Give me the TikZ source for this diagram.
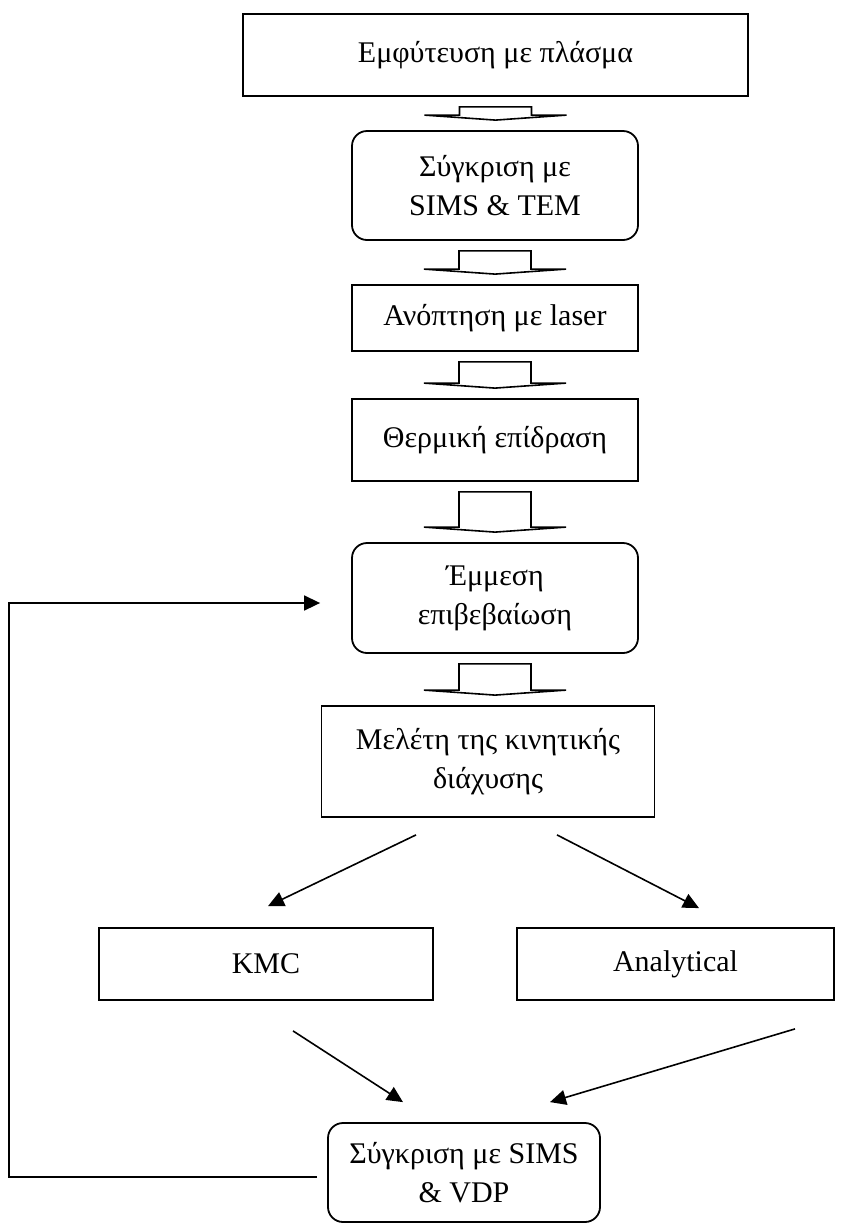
\documentclass[tikz,border=0pt]{standalone}
\usepackage{fontspec}
\setmainfont{Liberation Serif}
\usetikzlibrary{arrows.meta,calc}

\begin{document}
\begin{tikzpicture}[
  x=0.5pt, y=-0.5pt,
  font=\fontsize{15}{19.5}\selectfont,
  box/.style={draw, line width=0.9pt, align=center, inner sep=0pt},
  rbox/.style={box, rounded corners=7.5pt},
  arr/.style={-{Triangle[length=8pt,width=7.5pt]}, line width=0.8pt},
  blk/.style={draw, line width=0.8pt, line join=miter}
]
  \useasboundingbox (0,0) rectangle (842,1227);

  \node[box, minimum width=252.5pt, minimum height=41pt] (emf) at (495.5,55) {Εμφύτευση με πλάσμα};
  \node[rbox, minimum width=143pt, minimum height=54.5pt] (syg) at (495,185.5) {Σύγκριση με\\SIMS \& TEM};
  \node[box, minimum width=143pt, minimum height=33pt] (anop) at (495,318) {Ανόπτηση με laser};
  \node[box, minimum width=143pt, minimum height=41pt] (therm) at (495,440) {Θερμική επίδραση};
  \node[rbox, minimum width=143pt, minimum height=55pt] (emm) at (495,598) {Έμμεση\\επιβεβαίωση};
  \node[box, minimum width=166.5pt, minimum height=55.5pt] (mel) at (488,761.5) {Μελέτη της κινητικής\\διάχυσης};
  \node[box, minimum width=167pt, minimum height=36pt] (kmc) at (266,964) {KMC};
  \node[box, minimum width=158.5pt, minimum height=36pt] (ana) at (675.5,964) {Analytical};
  \node[rbox, minimum width=136pt, minimum height=49.5pt] (cmp) at (464,1172.5) {Σύγκριση με SIMS\\\& VDP};

  \foreach \a/\b in {emf/syg, syg/anop, anop/therm, therm/emm, emm/mel}
    \draw[blk] let \p1=($(\a.south)+(0,10)$), \p2=($(\b.north)+(0,-10)$) in
      (\x1-18pt,\y1) -- (\x1-18pt,\y2+2.5pt) -- (\x1-35.5pt,\y2+2.5pt) -- (\x1,\y2)
      -- (\x1+35.5pt,\y2+2.5pt) -- (\x1+18pt,\y2+2.5pt) -- (\x1+18pt,\y1) -- cycle;

  \draw[arr] ([shift={(-72,17)}]mel.south) -- ([shift={(2,-21)}]kmc.north);
  \draw[arr] ([shift={(69,17)}]mel.south) -- ([shift={(23.5,-19)}]ana.north);
  \draw[arr] ([shift={(27,30)}]kmc.south) -- ([shift={(-61,-20)}]cmp.north);
  \draw[arr] ([shift={(119.5,28)}]ana.south) -- ([shift={(86,-20)}]cmp.north);

  \coordinate (fbs) at ([xshift=-5pt,yshift=-2.25pt]cmp.west);
  \coordinate (fbe) at ([xshift=-15.5pt,yshift=-2.5pt]emm.west);
  \draw[arr] (fbs) -- ++(-308,0) |- (fbe);
\end{tikzpicture}
\end{document}
